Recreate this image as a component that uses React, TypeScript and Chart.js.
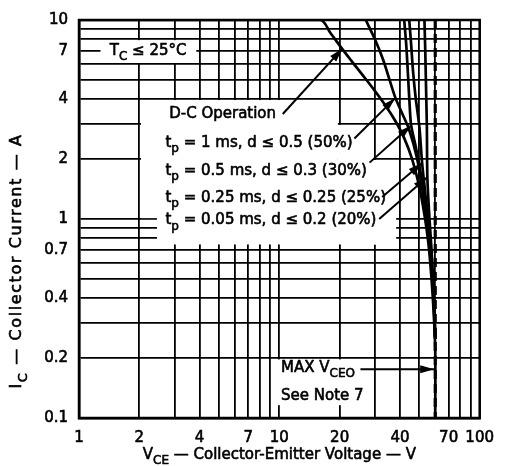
import React, { useEffect, useRef } from 'react';
import { Chart, registerables } from 'chart.js';
Chart.register(...registerables);

// ---- axis values ----
const xGridValues = [1, 2, 3, 4, 5, 6, 7, 8, 9, 10, 20, 30, 40, 50, 60, 70, 80, 90, 100];
const xTickLabels = [1, 2, 4, 7, 10, 20, 40, 70, 100];
const yGridValues = [0.1, 0.2, 0.3, 0.4, 0.5, 0.6, 0.7, 0.8, 0.9, 1, 2, 3, 4, 5, 6, 7, 8, 9, 10];
const yTickLabels = [0.1, 0.2, 0.4, 0.7, 1, 2, 4, 7, 10];

// ---- curves (V in volts, I in amperes) ----
const dcV = [1, 16, 18, 20.5, 23, 26, 30, 34, 38, 42, 46, 50, 53, 55.5, 57.5, 59, 60, 60];
const dcI = [10, 10, 8.6, 7.2, 6.2, 5.3, 4.4, 3.7, 3.1, 2.55, 2.0, 1.45, 1.05, 0.75, 0.5, 0.33, 0.22, 0.1];
const p1msV = [27, 30, 33, 35.5, 38, 41, 44.5, 48.5, 51.5, 54, 56.5, 58.5, 60];
const p1msI = [10, 8, 6.3, 5, 4.05, 3.4, 2.8, 2.05, 1.45, 1.0, 0.7, 0.45, 0.25];
const p05msV = [42, 43, 44, 44.8, 45.5, 48, 51, 53.5, 55.5, 57.5, 59, 60];
const p05msI = [10, 7.5, 5, 3.6, 2.95, 2.3, 1.65, 1.2, 0.9, 0.6, 0.4, 0.25];
const p025msV = [44.5, 45.5, 46.5, 48, 50, 51.6, 53.5, 55.5, 57.5, 59, 60];
const p025msI = [10, 7.5, 5.5, 4, 2.9, 1.91, 1.35, 0.95, 0.62, 0.4, 0.25];
const p005msV = [53, 53.5, 54, 54.5, 54.8, 56, 57.5, 59, 60];
const p005msI = [10, 7, 4.5, 2.9, 1.62, 1.05, 0.7, 0.42, 0.25];
const vceoV = [60, 60];
const vceoI = [10, 0.1];

// ---- annotations (data coordinates) ----
// white masks: [vMin, vMax, iMin, iMax]
const masks = [
  [1.28, 3.85, 6.08, 7.92],
  [2.04, 19.6, 1.01, 3.96],
  [19.6, 29.6, 1.01, 2.97],
  [29.6, 38.3, 0.745, 1.98],
  [2.45, 37.5, 0.745, 1.09],
  [9.6, 28, 0.116, 0.197],
];
type Part = [string, boolean];
const labels: { v: number; i: number; parts: Part[] }[] = [
  { v: 1.424, i: 7, parts: [['T', false], ['C', true], [' ≤ 25°C', false]] },
  { v: 2.82, i: 3.37, parts: [['D-C Operation', false]] },
  { v: 2.7, i: 2.4, parts: [['t', false], ['p', true], [' = 1 ms, d ≤ 0.5 (50%)', false]] },
  { v: 2.7, i: 1.75, parts: [['t', false], ['p', true], [' = 0.5 ms, d ≤ 0.3 (30%)', false]] },
  { v: 2.7, i: 1.28, parts: [['t', false], ['p', true], [' = 0.25 ms, d ≤ 0.25 (25%)', false]] },
  { v: 2.7, i: 0.983, parts: [['t', false], ['p', true], [' = 0.05 ms, d ≤ 0.2 (20%)', false]] },
  { v: 10.2, i: 0.178, parts: [['MAX V', false], ['CEO', true]] },
  { v: 10.2, i: 0.129, parts: [['See Note 7', false]] },
];
const arrows = [
  { from: [10.4, 3.37], to: [20.7, 7.2] },
  { from: [23.7, 2.54], to: [37.9, 4.05] },
  { from: [28.2, 1.92], to: [45.5, 2.95] },
  { from: [32.6, 1.29], to: [51.6, 1.91] },
  { from: [31.5, 1.0], to: [54.7, 1.62] },
  { from: [25.4, 0.176], to: [59.3, 0.176] },
];
const xTitle: Part[] = [['V', false], ['CE', true], [' — Collector-Emitter Voltage — V', false]];
const yTitle: Part[] = [['I', false], ['C', true], [' — Collector Current — A', false]];

const FAMILY = '"DejaVu Sans", sans-serif';
const TXT = 15;

function measure(ctx: CanvasRenderingContext2D, parts: Part[], size: number) {
  let w = 0;
  for (const [t, sub] of parts) {
    ctx.font = `${sub ? Math.round(size * 0.8) : size}px ${FAMILY}`;
    w += ctx.measureText(t).width;
  }
  return w;
}
function drawRich(ctx: CanvasRenderingContext2D, parts: Part[], x: number, y: number, size: number) {
  let cx = x;
  ctx.textBaseline = 'middle';
  ctx.textAlign = 'left';
  ctx.lineWidth = 0.6;
  ctx.lineJoin = 'round';
  for (const [t, sub] of parts) {
    ctx.font = `${sub ? Math.round(size * 0.8) : size}px ${FAMILY}`;
    const yy = sub ? y + size * 0.4 : y;
    ctx.fillText(t, cx, yy);
    ctx.strokeText(t, cx, yy);
    cx += ctx.measureText(t).width;
  }
}

const annotPlugin = {
  id: 'annot',
  beforeDatasetsDraw(chart: any) {
    const { ctx } = chart;
    const x = chart.scales.x, y = chart.scales.y;
    ctx.save();
    ctx.fillStyle = '#fff';
    for (const [v0, v1, i0, i1] of masks) {
      const px0 = x.getPixelForValue(v0), px1 = x.getPixelForValue(v1);
      const py0 = y.getPixelForValue(i1), py1 = y.getPixelForValue(i0);
      ctx.fillRect(px0, py0, px1 - px0, py1 - py0);
    }
    ctx.restore();
  },
  afterDraw(chart: any) {
    const { ctx, chartArea } = chart;
    const x = chart.scales.x, y = chart.scales.y;
    ctx.save();
    ctx.fillStyle = '#000';
    ctx.strokeStyle = '#000';
    // frame
    ctx.lineWidth = 2.5;
    ctx.strokeRect(chartArea.left, chartArea.top, chartArea.right - chartArea.left, chartArea.bottom - chartArea.top);
    // labels
    for (const l of labels) {
      drawRich(ctx, l.parts, x.getPixelForValue(l.v), y.getPixelForValue(l.i), TXT);
    }
    // arrows
    for (const a of arrows) {
      const x0 = x.getPixelForValue(a.from[0]), y0 = y.getPixelForValue(a.from[1]);
      const x1 = x.getPixelForValue(a.to[0]), y1 = y.getPixelForValue(a.to[1]);
      ctx.lineWidth = 2;
      ctx.beginPath();
      ctx.moveTo(x0, y0);
      ctx.lineTo(x1, y1);
      ctx.stroke();
      const ang = Math.atan2(y1 - y0, x1 - x0);
      const L = 14, W = 4;
      ctx.beginPath();
      ctx.moveTo(x1, y1);
      ctx.lineTo(x1 - L * Math.cos(ang) + W * Math.sin(ang), y1 - L * Math.sin(ang) - W * Math.cos(ang));
      ctx.lineTo(x1 - L * Math.cos(ang) - W * Math.sin(ang), y1 - L * Math.sin(ang) + W * Math.cos(ang));
      ctx.closePath();
      ctx.fill();
    }
    // axis titles
    const cx = (chartArea.left + chartArea.right) / 2;
    const wx = measure(ctx, xTitle, TXT);
    drawRich(ctx, xTitle, cx - wx / 2, 455, TXT);
    (ctx as any).letterSpacing = '1.6px';
    const wy = measure(ctx, yTitle, 16);
    ctx.translate(17, 261);
    ctx.rotate(-Math.PI / 2);
    drawRich(ctx, yTitle, -wy / 2, 0, 16);
    ctx.restore();
  },
};

export default function App() {
  const ref = useRef<HTMLCanvasElement>(null);
  useEffect(() => {
    const canvas = ref.current!;
    const pts = (vs: number[], is: number[]) => vs.map((v, k) => ({ x: v, y: is[k] }));
    const line = (vs: number[], is: number[], extra: any = {}) => ({
      data: pts(vs, is),
      borderColor: '#000',
      borderWidth: 2.7,
      pointRadius: 0,
      tension: 0.3,
      fill: false,
      ...extra,
    });
    const tickFont = { family: FAMILY, size: 15 };
    const chart = new Chart(canvas, {
      type: 'line',
      data: {
        datasets: [
          line(vceoV, vceoI, { borderDash: [9, 5], borderWidth: 3.2, tension: 0 }),
          line(dcV, dcI),
          line(p1msV, p1msI),
          line(p05msV, p05msI),
          line(p025msV, p025msI),
          line(p005msV, p005msI),
        ] as any,
      },
      options: {
        animation: false,
        responsive: false,
        maintainAspectRatio: false,
        layout: { padding: { left: 0, top: 11, right: 22, bottom: 0 } },
        plugins: { legend: { display: false }, tooltip: { enabled: false } },
        scales: {
          x: {
            type: 'logarithmic',
            min: 1,
            max: 100,
            afterBuildTicks: (s: any) => { s.ticks = xGridValues.map((v) => ({ value: v })); },
            afterFit: (s: any) => { s.height = 48; },
            ticks: {
              autoSkip: false,
              maxRotation: 0,
              padding: 11,
              color: '#000',
              font: tickFont,
              textStrokeColor: '#000',
              textStrokeWidth: 0.6,
              callback: (v: any) => (xTickLabels.includes(Number(v)) ? String(v) : ''),
            },
            grid: { color: '#000', lineWidth: 1.8, drawTicks: false },
            border: { display: true, color: '#000', width: 2.5 },
          },
          y: {
            type: 'logarithmic',
            min: 0.1,
            max: 10,
            afterBuildTicks: (s: any) => { s.ticks = yGridValues.map((v) => ({ value: v })); },
            afterFit: (s: any) => { s.width = 79; },
            ticks: {
              autoSkip: false,
              padding: 11,
              color: '#000',
              font: tickFont,
              textStrokeColor: '#000',
              textStrokeWidth: 0.6,
              callback: (v: any) => (yTickLabels.includes(Number(v)) ? String(v) : ''),
            },
            grid: { color: '#000', lineWidth: 1.8, drawTicks: false },
            border: { display: true, color: '#000', width: 2.5 },
          },
        },
      } as any,
      plugins: [annotPlugin],
    });
    return () => chart.destroy();
  }, []);
  return (
    <div style={{ position: 'fixed', left: 0, top: 0, width: 505, height: 466, background: '#fff' }}>
      <canvas ref={ref} width={505} height={466} style={{ display: 'block' }} />
    </div>
  );
}
